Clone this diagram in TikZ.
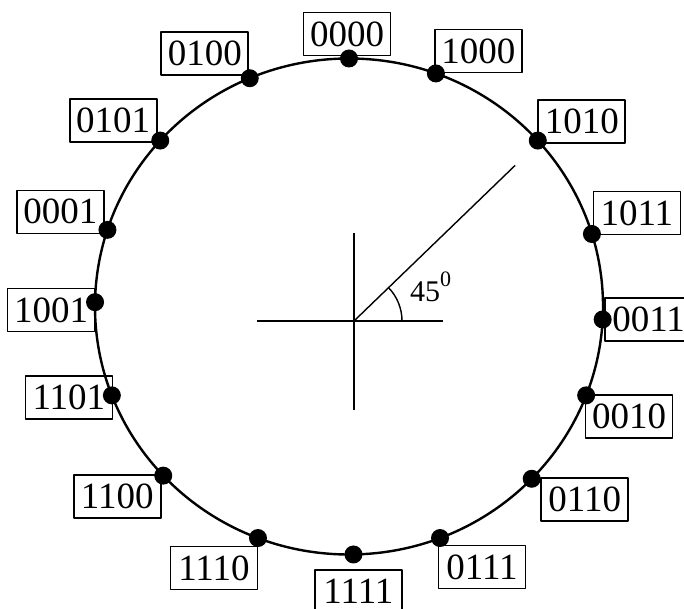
\documentclass[tikz,border=0pt]{standalone}
\usepackage{fontspec}
\setmainfont{Liberation Serif}
\usetikzlibrary{positioning,calc}
\tikzset{fig/.style={line join=round,x=1pt,y=1pt},
  codebox/.style={draw,line width=1.6pt,inner sep=0pt,minimum width=87,minimum height=43,font=\fontsize{37}{40}\selectfont},
  bitdot/.style={fill,circle,inner sep=0pt,minimum size=18pt}}

\begin{document}
\begin{tikzpicture}[fig]
  \useasboundingbox (0,0) rectangle (684,608);
  \coordinate (o) at (349,301.5);
  \coordinate (cen) at (354,287);
  \draw[line width=2.4pt] (o) ellipse [x radius=254,y radius=248];
  % cross and angle
  \coordinate (hl) at (257,287); \coordinate (hr) at (443,287);
  \coordinate (vt) at (354,375); \coordinate (vb) at (354,198);
  \coordinate (ray) at ($(cen)+(44:224)$);
  \draw[line width=2.6pt] (hl)--(hr) (vt)--(vb);
  \draw[line width=1.4pt] (cen)--(ray);
  \draw[line width=1.4pt] ([shift={(0:48)}]cen) arc[start angle=0,end angle=44,radius=48];
  \node[anchor=base west,inner sep=0pt,font=\fontsize{30}{34}\selectfont] (ang) at (410,306)
    {45\raisebox{15pt}{\fontsize{22}{24}\selectfont 0}};
  % code points
  \foreach \a/\t/\dx/\dy [count=\i] in {90/0000/-2/24.5,70/1000/42.5/22.5,42/1010/44/19,17/1011/45/21,
      -3/0011/46/0,-21/0010/43/-21,-44/0110/53/-21,-69/0111/42/-29,-89/1111/5/-37,-111/1110/-44/-30,
      -137/1100/-46/-21,-159/1101/-43/-2,179/1001/-44/-8,162/0001/-47/18,138/0101/-47/20,113/0100/-45/25}{
    \node[bitdot] (p\i) at ([shift={(\a:254 and 248)}]o) {};
    \node[codebox] (c\i) at ([shift={(\dx,\dy)}]p\i) {\t};
  }
\end{tikzpicture}
\end{document}
